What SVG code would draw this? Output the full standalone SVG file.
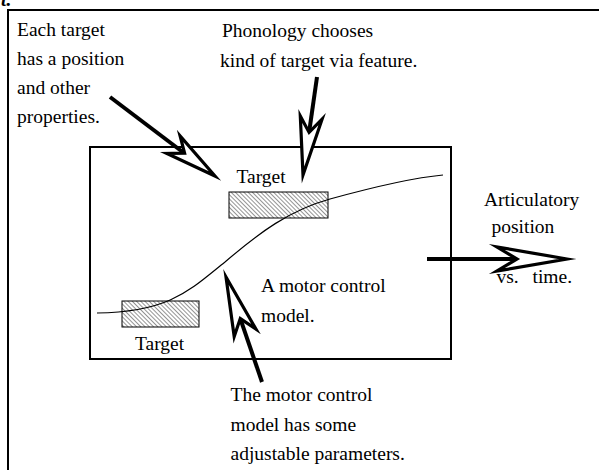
<svg xmlns="http://www.w3.org/2000/svg" width="599" height="470" viewBox="0 0 599 470">
<style>
  text { font-family: "Liberation Serif", "Times New Roman", serif; font-size: 19.5px; fill: #000; }
  .frame { fill: none; stroke: #000; stroke-width: 2; }
  .tbox { fill: url(#hatch); stroke: #000; stroke-width: 1; }
  .curve { fill: none; stroke: #000; stroke-width: 1.2; }
  .shaft { fill: none; stroke: #000; stroke-width: 4; }
  .head { fill: #fff; stroke: #000; stroke-width: 3.2; stroke-linejoin: miter; stroke-miterlimit: 10; }
</style>
<defs>
  <pattern id="hatch" patternUnits="userSpaceOnUse" width="3" height="3" patternTransform="rotate(-45)">
    <rect width="3" height="3" fill="#fff"/>
    <line x1="0.5" y1="0" x2="0.5" y2="3" stroke="#666" stroke-width="0.7"/>
  </pattern>
</defs>
<rect width="599" height="470" fill="#fff"/>

<text x="1" y="6" style="font-weight:bold;font-style:italic;">t.</text>

<g id="outer-frame">
  <path class="frame" d="M8,471 V10 H600"/>
</g>

<g id="model-box">
  <rect class="frame" x="90" y="147" width="361" height="212"/>
</g>

<g id="target-upper">
  <rect class="tbox" x="229" y="192" width="99" height="26"/>
  <text x="236.5" y="183">Target</text>
</g>

<g id="target-lower">
  <rect class="tbox" x="122" y="301" width="77" height="26"/>
  <text x="135" y="350">Target</text>
</g>

<g id="trajectory">
  <path class="curve" d="M97,313 C170,312 190,290 225,262 C260,232 290,210 330,199 C370,188 410,178 443,175"/>
</g>

<g id="label-each-target">
  <text x="17" y="36">Each target</text>
  <text x="17" y="65">has a position</text>
  <text x="17" y="94">and other</text>
  <text x="17" y="123">properties.</text>
</g>

<g id="label-phonology">
  <text x="222" y="37">Phonology chooses</text>
  <text x="220" y="67">kind of target via feature.</text>
</g>

<g id="label-articulatory">
  <text x="484" y="206">Articulatory</text>
  <text x="491.5" y="233">position</text>
  <text x="496.5" y="283">vs.<tspan x="532.5">time.</tspan></text>
</g>

<g id="label-motor-model">
  <text x="261" y="292">A motor control</text>
  <text x="261" y="322">model.</text>
</g>

<g id="label-parameters">
  <text x="230.5" y="401">The motor control</text>
  <text x="230.5" y="431">model has some</text>
  <text x="230.5" y="460">adjustable parameters.</text>
</g>

<g id="connectors">
  <g id="arrow-each-target">
    <line class="shaft" x1="110" y1="97" x2="184" y2="153"/>
    <polygon class="head" points="215,176 180.1,135.9 184.6,153.2 166.9,153.5"/>
  </g>
  <g id="arrow-phonology">
    <line class="shaft" x1="317" y1="77" x2="309.1" y2="132.4"/>
    <polygon class="head" points="303,175 322.1,119.2 309.1,132.4 300.3,116"/>
  </g>
  <g id="arrow-articulatory">
    <line class="shaft" x1="427" y1="259" x2="517" y2="259"/>
    <polygon class="head" points="567,259 497,247 517,259 497,271"/>
  </g>
  <g id="arrow-parameters">
    <line class="shaft" x1="262" y1="382" x2="240.3" y2="318.6"/>
    <polygon class="head" points="226,277 256,329.1 240.3,318.6 234.2,336.5"/>
  </g>
</g>
</svg>
